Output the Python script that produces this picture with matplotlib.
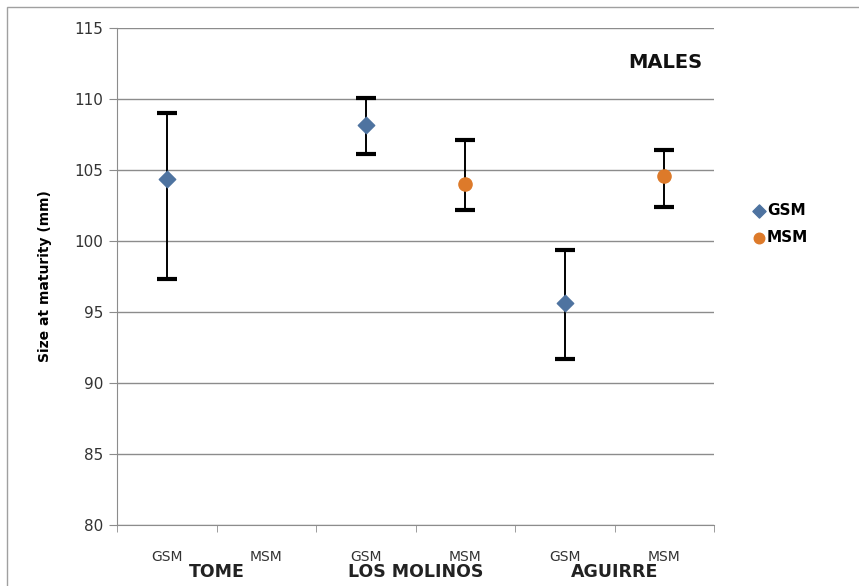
import numpy as np
import matplotlib.pyplot as plt
from matplotlib.patches import Rectangle
import matplotlib.transforms as mtransforms

# data
sites = ['TOME', 'LOS MOLINOS', 'AGUIRRE']
methods = ['GSM', 'MSM']
gsm_mean = [104.4, 108.2, 95.6]
gsm_low = [97.3, 106.1, 91.7]
gsm_high = [109.0, 110.1, 99.4]
msm_mean = [np.nan, 104.0, 104.6]
msm_low = [np.nan, 102.2, 102.4]
msm_high = [np.nan, 107.1, 106.4]

blue = '#4E73A0'
orange = '#DD7A2A'

fig = plt.figure(figsize=(8.59, 5.86), dpi=100)
fig.patches.append(Rectangle((7 / 859, -0.05), 1.0, 1 - 7 / 586 + 0.05, transform=fig.transFigure,
                             fill=False, edgecolor='#A0A0A0', linewidth=1.0))
ax = fig.add_axes([117 / 859, 1 - 525 / 586, (714 - 117) / 859, (525 - 28) / 586])

x_gsm = np.arange(len(sites)) * 2
x_msm = x_gsm + 1

def yerr(mean, low, high):
    mean, low, high = map(np.array, (mean, low, high))
    return np.vstack([mean - low, high - mean])

ax.errorbar(x_gsm, gsm_mean, yerr=yerr(gsm_mean, gsm_low, gsm_high), fmt='none',
            ecolor='black', elinewidth=1.4, capsize=7, capthick=3, zorder=3)
ax.errorbar(x_msm, msm_mean, yerr=yerr(msm_mean, msm_low, msm_high), fmt='none',
            ecolor='black', elinewidth=1.4, capsize=7, capthick=3, zorder=3)
ax.scatter(x_gsm, gsm_mean, marker='D', s=70, color=blue, zorder=4, label='GSM')
ax.scatter(x_msm, msm_mean, marker='o', s=90, color=orange, zorder=4, label='MSM')

ax.set_xlim(-0.5, 5.5)
ax.set_ylim(80, 115)
ax.set_yticks(np.arange(80, 116, 5))
ax.yaxis.grid(True, color='#8C8C8C', linewidth=1.0)
ax.set_axisbelow(True)
for s in ['top', 'right']:
    ax.spines[s].set_visible(False)
for s in ['left', 'bottom']:
    ax.spines[s].set_color('#8C8C8C')
ax.tick_params(axis='y', length=6, color='#8C8C8C', labelsize=11, labelcolor='#333333', pad=4)

ax.set_xticks(np.arange(6))
ax.set_xticklabels(methods * 3, fontsize=10, color='#333333')
ax.set_xticks(np.arange(-0.5, 6, 1), minor=True)
ax.tick_params(axis='x', which='major', length=0, pad=18)
ax.tick_params(axis='x', which='minor', length=5, color='#8C8C8C')

trans = mtransforms.blended_transform_factory(ax.transData, ax.transAxes)
for i, site in enumerate(sites):
    ax.text(2 * i + 0.5, -0.095, site, transform=trans, ha='center', va='center',
            fontsize=12.5, fontweight='bold', color='#222222')

ax.set_ylabel('Size at maturity (mm)', fontsize=10, fontweight='bold', labelpad=16)
ax.text(0.98, 0.93, 'MALES', transform=ax.transAxes, ha='right', va='center',
        fontsize=14, fontweight='bold', color='#111111')

ax.legend(loc='center left', bbox_to_anchor=(1.04, 0.605), frameon=False,
          prop={'weight': 'bold', 'size': 11}, handletextpad=0.0, labelspacing=0.8,
          markerscale=0.8, handlelength=1.0)

fig.savefig('out.png', dpi=100)
